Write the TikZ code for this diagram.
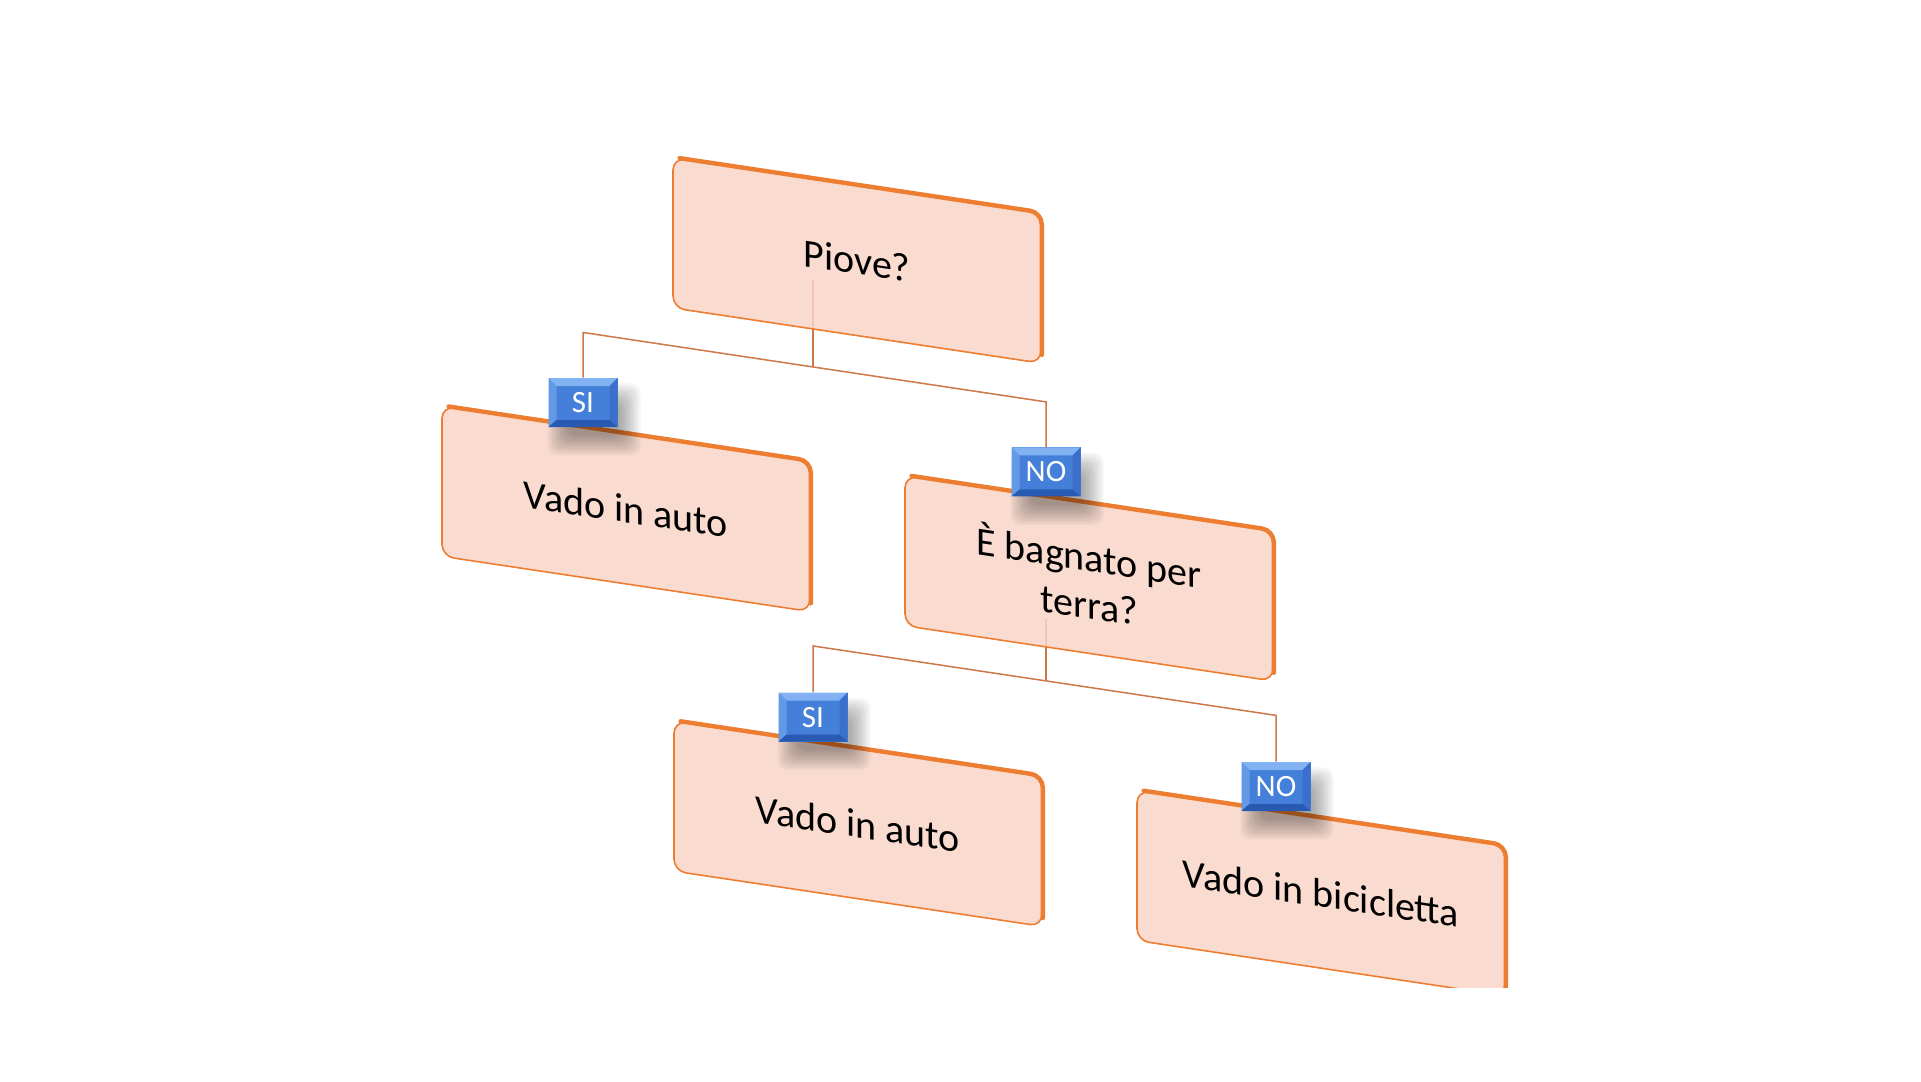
\documentclass[tikz,border=0pt]{standalone}
\usepackage{fontspec}
\setmainfont{Carlito}
\usetikzlibrary{calc}
\definecolor{boxfill}{RGB}{248,213,199}
\definecolor{boxedge}{RGB}{237,125,49}
\definecolor{connc}{RGB}{205,120,70}
\definecolor{badgeblue}{RGB}{68,128,218}
\definecolor{badgelight}{RGB}{130,178,242}
\definecolor{badgemid}{RGB}{98,154,232}
\definecolor{badgeright}{RGB}{58,112,204}
\definecolor{badgedark}{RGB}{40,90,178}
\begin{document}
\begin{tikzpicture}[x=0.5pt,y=-0.5pt,
  box/.style={rectangle, rounded corners=6pt, minimum width=184pt, minimum height=75pt,
    fill=boxfill, fill opacity=0.85, text opacity=1, draw=boxedge, line width=0.8pt,
    transform shape, font=\fontsize{20}{23.5}\selectfont, align=center, inner sep=0pt},
  thickedge/.style={draw=boxedge, line width=2.2pt, rounded corners=6pt, line cap=round},
  conn/.style={draw=connc, line width=0.75pt},
  shadowlayer/.style={fill=black, opacity=0.035, rounded corners=5pt},
  badge/.style={rectangle, minimum width=34.5pt, minimum height=24.5pt, inner sep=0pt,
    fill=badgeblue, text=white, font=\fontsize{15.5}{15.5}\selectfont, anchor=south,
    path picture={
      \fill[badgelight] (path picture bounding box.north west) -- (path picture bounding box.north east)
        -- ($(path picture bounding box.north east)+(-4pt,-4pt)$) -- ($(path picture bounding box.north west)+(4pt,-4pt)$) -- cycle;
      \fill[badgemid] (path picture bounding box.north west) -- ($(path picture bounding box.north west)+(4pt,-4pt)$)
        -- ($(path picture bounding box.south west)+(4pt,3.5pt)$) -- (path picture bounding box.south west) -- cycle;
      \fill[badgeright] (path picture bounding box.north east) -- ($(path picture bounding box.north east)+(-4pt,-4pt)$)
        -- ($(path picture bounding box.south east)+(-4pt,3.5pt)$) -- (path picture bounding box.south east) -- cycle;
      \fill[badgedark] (path picture bounding box.south west) -- (path picture bounding box.south east)
        -- ($(path picture bounding box.south east)+(-4pt,3.5pt)$) -- ($(path picture bounding box.south west)+(4pt,3.5pt)$) -- cycle;
    }}
]
\useasboundingbox (0,0) rectangle (1921,1081);
\begin{scope}
\clip (0,0) rectangle (1921,987);
\begin{scope}[yslant=-0.15]
  \coordinate (s1) at (813,158);
  \coordinate (j1) at (813,245);
  \coordinate (l1) at (583,245);
  \coordinate (r1) at (1046,245);
  \coordinate (t1) at (583,340);
  \coordinate (t2) at (1046,340);
  \coordinate (s2) at (1046,462);
  \coordinate (j2) at (1046,524);
  \coordinate (l2) at (813,524);
  \coordinate (r2) at (1276,524);
  \coordinate (t3) at (813,620);
  \coordinate (t4) at (1276,620);
  \draw[conn] (s1) -- (j1);
  \draw[conn] (s2) -- (j2);
  \node[box] (piove) at (857,132) {Piove?};
  \node[box] (vado1) at (626,415) {Vado in auto};
  \node[box] (bagnato) at (1089,415) {È bagnato per\\terra?};
  \node[box] (vado2) at (858,695) {Vado in auto};
  \node[box] (bici) at (1321,695) {Vado in bicicletta};
  \foreach \n in {piove,vado1,bagnato,vado2,bici}
    \draw[thickedge] ($(\n.north west)!0.02!(\n.north east)$) -- (\n.north east) -- ($(\n.south east)!0.06!(\n.north east)$);
\end{scope}
\foreach \t in {t1,t2,t3,t4}{
  \begin{scope}[shift={(\t)}]
    \foreach \r in {-4,-3,...,6}
      \fill[shadowlayer] (-11.75pt-\r pt,-8pt-\r pt) rectangle (22.75pt+\r pt,16pt+\r pt);
  \end{scope}
}
\node[badge] (si1) at (t1) {SI};
\node[badge] (no1) at (t2) {NO};
\node[badge] (si2) at (t3) {SI};
\node[badge] (no2) at (t4) {NO};
\draw[conn] (si1.north) -- (l1) -- (j1) -- (r1) -- (no1.north);
\draw[conn] (si2.north) -- (l2) -- (j2) -- (r2) -- (no2.north);
\end{scope}
\end{tikzpicture}
\end{document}
